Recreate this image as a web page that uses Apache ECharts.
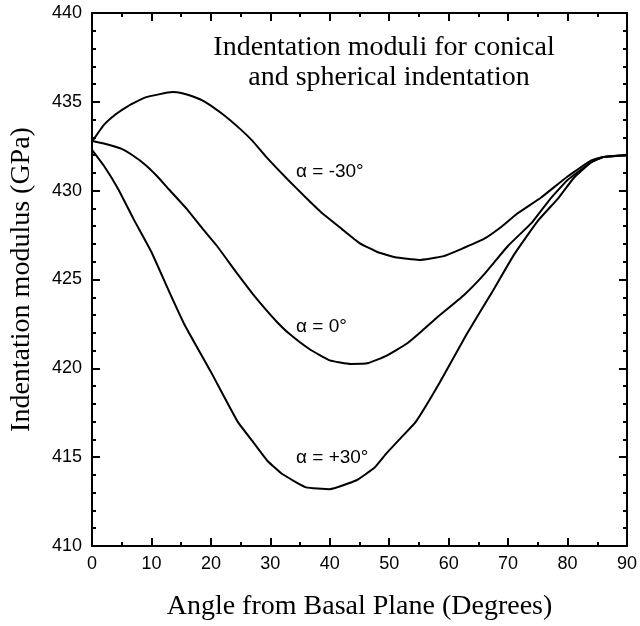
<!DOCTYPE html>
<html>
<head>
<meta charset="utf-8">
<script src="https://cdn.jsdelivr.net/npm/echarts@6/dist/echarts.min.js"></script>
<style>
html,body{margin:0;padding:0;background:#fff;}
#chart{width:640px;height:626px;}
</style>
</head>
<body>
<div id="chart"></div>
<script>
const xTicks = [0, 10, 20, 30, 40, 50, 60, 70, 80, 90];
const yTicks = [410, 415, 420, 425, 430, 435, 440];

const angleMinus30 = [0, 2, 4, 6, 9, 13.5, 15, 17, 19, 22, 25, 27, 29.3, 33, 36, 38.5, 42, 45, 48, 51, 55, 59, 62, 66, 69, 71.5, 75.5, 80, 84, 86, 90];
const modMinus30 = [432.75, 433.7, 434.3, 434.75, 435.25, 435.55, 435.5, 435.3, 435.0, 434.3, 433.45, 432.8, 431.9, 430.6, 429.6, 428.8, 427.85, 427.05, 426.55, 426.25, 426.1, 426.3, 426.7, 427.3, 428.0, 428.7, 429.6, 430.8, 431.7, 431.9, 432.0];

const angleZero = [0, 2, 5, 7, 9, 11, 13, 16, 18.5, 21, 24.5, 27, 29, 31, 33, 36.5, 40, 43.5, 46.5, 49.5, 53, 55.5, 58, 62.5, 66, 70, 74, 77, 80, 84, 86, 90];
const modZero = [432.8, 432.65, 432.35, 431.95, 431.45, 430.8, 430.05, 428.95, 427.9, 426.9, 425.3, 424.2, 423.4, 422.65, 422.0, 421.1, 420.45, 420.25, 420.3, 420.7, 421.4, 422.1, 422.85, 424.1, 425.3, 426.9, 428.2, 429.5, 430.6, 431.6, 431.9, 432.0];

const anglePlus30 = [0, 2, 4.4, 7, 10, 13, 15.5, 20, 24.5, 27, 29.5, 32, 36, 40, 44.5, 47.5, 49.5, 52, 54.5, 58.5, 63, 67.5, 71, 75, 78.5, 81, 84, 86, 90];
const modPlus30 = [432.3, 431.4, 430.1, 428.4, 426.55, 424.3, 422.5, 419.8, 417.0, 415.9, 414.8, 414.05, 413.3, 413.2, 413.7, 414.4, 415.2, 416.1, 417.0, 419.2, 421.9, 424.4, 426.4, 428.3, 429.6, 430.7, 431.6, 431.9, 432.0];

const seriesNames = ['α = -30°', 'α = 0°', 'α = +30°'];
const titleLines = ['Indentation moduli for conical', 'and spherical indentation'];
const xTitle = 'Angle from Basal Plane (Degrees)';
const yTitle = 'Indentation modulus (GPa)';

function pairs(xs, ys) { return xs.map((x, i) => [x, ys[i]]); }

const chart = echarts.init(document.getElementById('chart'), null, {renderer: 'canvas'});

const axisCommon = {
  type: 'value',
  axisLine: {show: true, onZero: false, lineStyle: {color: '#000', width: 2}},
  axisTick: {show: true, inside: true, length: 8, lineStyle: {color: '#000', width: 2}},
  minorTick: {show: true, splitNumber: 2, length: 4, lineStyle: {color: '#000', width: 2}},
  splitLine: {show: false},
  minorSplitLine: {show: false}
};

const xBase = Object.assign({}, axisCommon, {min: xTicks[0], max: xTicks[xTicks.length - 1], interval: 10});
const yBase = Object.assign({}, axisCommon, {min: yTicks[0], max: yTicks[yTicks.length - 1], interval: 5});

const option = {
  backgroundColor: '#fff',
  animation: false,
  grid: {left: 87, right: 11, top: 13, bottom: 69, containLabel: false},
  xAxis: [
    Object.assign({}, xBase, {
      position: 'bottom',
      name: xTitle, nameLocation: 'middle', nameGap: 47,
      nameTextStyle: {fontFamily: 'Liberation Serif', fontSize: 28, color: '#000'},
      axisLabel: {show: true, margin: 9, fontFamily: 'Liberation Sans', fontSize: 18, color: '#000'}
    }),
    Object.assign({}, xBase, {position: 'top', axisLabel: {show: false}})
  ],
  yAxis: [
    Object.assign({}, yBase, {
      position: 'left',
      minorTick: Object.assign({}, axisCommon.minorTick, {splitNumber: 5}),
      name: yTitle, nameLocation: 'middle', nameGap: 56,
      nameTextStyle: {fontFamily: 'Liberation Serif', fontSize: 28, color: '#000'},
      axisLabel: {show: true, margin: 10, fontFamily: 'Liberation Sans', fontSize: 18, color: '#000'}
    }),
    Object.assign({}, yBase, {
      position: 'right',
      minorTick: Object.assign({}, axisCommon.minorTick, {splitNumber: 5}),
      axisLabel: {show: false}
    })
  ],
  series: [
    {name: seriesNames[0], type: 'line', data: pairs(angleMinus30, modMinus30)},
    {name: seriesNames[1], type: 'line', data: pairs(angleZero, modZero)},
    {name: seriesNames[2], type: 'line', data: pairs(anglePlus30, modPlus30)}
  ].map(s => Object.assign(s, {
    xAxisIndex: 0, yAxisIndex: 0, showSymbol: false, symbol: 'none', smooth: 0.12,
    lineStyle: {color: '#000', width: 2}
  })),
  graphic: [
    {type: 'text', x: 384, y: 48, style: {text: titleLines[0], font: '28px "Liberation Serif"', fill: '#000', textAlign: 'center', textVerticalAlign: 'middle'}},
    {type: 'text', x: 389, y: 78, style: {text: titleLines[1], font: '28px "Liberation Serif"', fill: '#000', textAlign: 'center', textVerticalAlign: 'middle'}},
    {type: 'text', x: 296, y: 172, style: {text: seriesNames[0], font: '19px "Liberation Sans"', fill: '#000', textVerticalAlign: 'middle'}},
    {type: 'text', x: 296, y: 327, style: {text: seriesNames[1], font: '19px "Liberation Sans"', fill: '#000', textVerticalAlign: 'middle'}},
    {type: 'text', x: 296, y: 458, style: {text: seriesNames[2], font: '19px "Liberation Sans"', fill: '#000', textVerticalAlign: 'middle'}}
  ]
};

chart.setOption(option);
</script>
</body>
</html>
